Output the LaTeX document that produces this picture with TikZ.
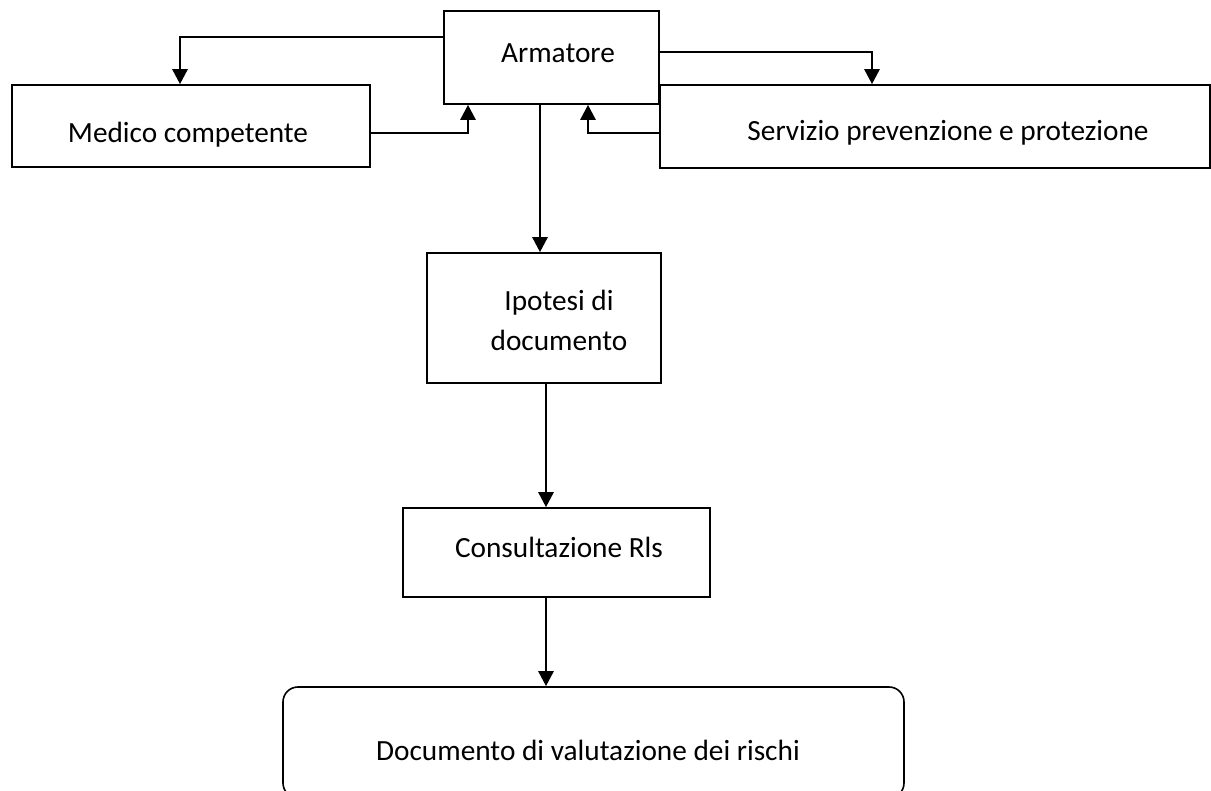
\documentclass[tikz,border=0pt]{standalone}
\usepackage{fontspec}
\setmainfont{Carlito}
\usetikzlibrary{arrows.meta,calc,positioning}
\tikzstyle{box}=[rectangle, draw=black, line width=1.6pt, inner sep=0pt]
\tikzstyle{txt}=[font=\fontsize{29.3}{40}\selectfont, align=center, inner sep=0pt]
\tikzstyle{conn}=[line width=2.6pt, -{Triangle[width=15pt,length=15pt]}]

\begin{document}
\begin{tikzpicture}[x=1pt, y=-1pt]
    \useasboundingbox (0,0) rectangle (1211,791);
    \clip (0,0) rectangle (1211,791);

    \node (Armatore) [box, minimum width=215pt, minimum height=93pt,
        label={[txt, xshift=6.5pt, yshift=4.5pt]center:Armatore}] at (551.5,57.5) {};

    \node (Medico) [box, minimum width=358pt, minimum height=82pt,
        label={[txt, xshift=-3pt, yshift=-9pt]center:Medico competente}] at (191,126) {};

    \node (Servizio) [box, minimum width=550pt, minimum height=83pt,
        label={[txt, xshift=13pt, yshift=-6.5pt]center:Servizio prevenzione e protezione}] at (935,126.5) {};

    \node (Ipotesi) [box, minimum width=234pt, minimum height=130pt,
        label={[txt, xshift=15pt, yshift=-2pt]center:Ipotesi di\\documento}] at (544,318) {};

    \node (Consultazione) [box, minimum width=307pt, minimum height=89pt,
        label={[txt, xshift=2.5pt, yshift=5.5pt]center:Consultazione Rls}] at (556.5,552.5) {};

    \node (Documento) [box, rounded corners=15pt, minimum width=621pt, minimum height=111pt,
        label={[txt, xshift=-5.5pt, yshift=-7.5pt]center:Documento di valutazione dei rischi}] at (593.5,742.5) {};

    % Armatore <-> Medico, Servizio
    \draw[conn] ([yshift=20.5pt]Armatore.west) -| ([xshift=-11pt]Medico.north);
    \draw[conn] ([yshift=-7pt]Medico.east) -| ([xshift=-83.5pt]Armatore.south);
    \draw[conn] ([yshift=5.5pt]Armatore.east) -| ([xshift=-63pt]Servizio.north);
    \draw[conn] ([yshift=-6.5pt]Servizio.west) -| ([xshift=36.5pt]Armatore.south);

    % flusso verso il documento
    \draw[conn] ([xshift=-11.5pt]Armatore.south) coordinate (a) -- (a |- Ipotesi.north);
    \draw[conn] ([xshift=2pt]Ipotesi.south) coordinate (b) -- (b |- Consultazione.north);
    \draw[conn] ([xshift=-10.5pt]Consultazione.south) coordinate (c) -- (c |- Documento.north);

\end{tikzpicture}
\end{document}
